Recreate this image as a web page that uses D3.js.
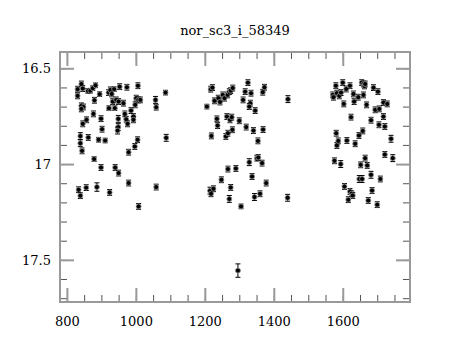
<!DOCTYPE html>
<html><head><meta charset="utf-8">
<script src="https://cdn.jsdelivr.net/npm/d3@7"></script>
<style>body{margin:0;background:#fff}svg{display:block}</style>
</head><body>
<script>
const title = "nor_sc3_i_58349";
const times = [
 831,831,842,846,861,868,875,883,880,895,842,848,842,877,857,846,899,902,839,862,892,911,839,844,879,899,
 921,926,930,937,933,943,953,974,950,964,922,939,968,972,976,986,993,993,998,1001,1007,1013,1006,949,949,947,
 1005,997,979,940,950,1057,1059,1086,1088,834,839,856,887,924,979,1008,1059,
 1217,1222,1206,1228,1239,1244,1252,1257,1266,1271,1275,1281,1325,1317,1334,1311,1332,1329,1346,1368,1373,1441,
 1235,1237,1264,1273,1278,1300,1320,1341,1354,1369,1219,1261,1267,1280,1329,1351,1355,1366,1267,1290,1337,1248,
 1378,1215,1218,1225,1275,1271,1344,1360,1305,1440,1296,
 1580,1571,1573,1583,1590,1595,1600,1603,1610,1621,1631,1633,1645,1655,1660,1663,1665,1660,1669,1689,1702,1694,
 1706,1718,1729,1718,1705,1722,1682,1624,1740,1581,1583,1587,1612,1636,1647,1658,1722,1745,1576,1594,1652,1665,
 1671,1682,1648,1656,1709,1685,1605,1621,1626,1629,1616,1674,1700
];
const mags = [
 16.609,16.644,16.582,16.606,16.618,16.617,16.604,16.589,16.667,16.635,16.696,16.702,16.712,16.738,16.769,16.790,
 16.763,16.818,16.854,16.861,16.873,16.877,16.891,16.931,16.974,17.018,
 16.627,16.613,16.634,16.609,16.674,16.665,16.596,16.599,16.674,16.682,16.708,16.708,16.738,16.766,16.790,16.721,
 16.752,16.769,16.691,16.656,16.665,16.665,16.591,16.764,16.807,16.825,16.873,16.908,16.938,17.018,17.047,
 16.665,16.703,16.627,16.863,17.134,17.165,17.123,17.120,17.148,17.099,17.221,17.120,
 16.609,16.601,16.700,16.670,16.656,16.676,16.639,16.656,16.639,16.622,16.617,16.603,16.575,16.622,16.630,16.665,
 16.682,16.700,16.721,16.625,16.599,16.661,16.764,16.799,16.752,16.769,16.755,16.774,16.807,16.825,16.879,16.820,
 16.853,16.856,16.839,16.821,16.990,16.969,16.966,16.995,17.026,17.023,17.065,17.082,17.099,17.139,17.155,17.129,
 17.122,17.182,17.172,17.155,17.221,17.176,17.556,
 16.591,16.639,16.651,16.630,16.644,16.627,16.575,16.686,16.608,16.591,16.634,16.674,16.651,16.575,16.582,16.592,
 16.582,16.639,16.691,16.601,16.622,16.717,16.712,16.679,16.686,16.752,16.795,16.804,16.771,16.755,16.868,16.839,
 16.903,16.879,16.877,16.894,16.851,16.827,16.950,16.969,16.983,17.000,17.004,16.969,17.007,17.056,17.078,17.078,
 17.078,17.138,17.117,17.143,17.155,17.164,17.186,17.190,17.212
];
const errors = [
 0.015,0.015,0.015,0.015,0.012,0.012,0.012,0.012,0.015,0.012,0.015,0.015,0.015,0.015,0.015,0.015,
 0.015,0.015,0.018,0.015,0.012,0.012,0.018,0.015,0.012,0.015,
 0.015,0.015,0.015,0.012,0.015,0.015,0.015,0.015,0.015,0.015,0.012,0.012,0.015,0.015,0.015,0.015,
 0.015,0.015,0.015,0.015,0.015,0.015,0.015,0.018,0.018,0.018,0.015,0.015,0.015,0.015,0.015,
 0.018,0.015,0.012,0.018,0.015,0.015,0.015,0.022,0.015,0.015,0.015,0.015,
 0.015,0.015,0.012,0.015,0.015,0.015,0.015,0.015,0.015,0.015,0.015,0.015,0.015,0.015,0.015,0.015,
 0.015,0.015,0.015,0.015,0.015,0.018,0.015,0.015,0.015,0.015,0.015,0.015,0.015,0.015,0.015,0.015,
 0.015,0.015,0.015,0.015,0.018,0.015,0.015,0.015,0.015,0.015,0.015,0.015,0.015,0.018,0.015,0.015,
 0.015,0.018,0.018,0.015,0.012,0.018,0.035,
 0.015,0.015,0.015,0.015,0.015,0.015,0.015,0.015,0.015,0.015,0.015,0.015,0.015,0.015,0.015,0.015,
 0.015,0.015,0.015,0.015,0.015,0.015,0.015,0.015,0.015,0.015,0.015,0.015,0.015,0.015,0.018,0.015,
 0.015,0.015,0.015,0.015,0.015,0.015,0.015,0.018,0.015,0.018,0.015,0.015,0.015,0.018,0.018,0.018,
 0.015,0.015,0.015,0.015,0.015,0.015,0.015,0.015,0.015
];
const xMajorTicks = [800, 1000, 1200, 1400, 1600];
const xMinorTicks = [800,850,900,950,1000,1050,1100,1150,1200,1250,1300,1350,1400,1450,1500,1550,1600,1650,1700,1750];
const yMajorTicks = [16.5, 17, 17.5];
const yMinorTicks = [16.5,16.6,16.7,16.8,16.9,17,17.1,17.2,17.3,17.4,17.5,17.6,17.7];

const W = 460, H = 340;
const L = 60, R = 410, T = 52, B = 302;
const svg = d3.select("body").append("svg").attr("width", W).attr("height", H);
const x = d3.scaleLinear().domain([780, 1795]).range([L, R]);
const y = d3.scaleLinear().domain([16.415, 17.72]).range([T, B]);
const font = "'DejaVu Serif', serif";

svg.append("text").attr("x", 235).attr("y", 35).attr("text-anchor", "middle")
  .attr("font-family", font).attr("font-size", 13).text(title);

function styleAxis(g, w, col) {
  g.select(".domain").remove();
  g.selectAll(".tick line").attr("stroke", col).attr("stroke-width", w);
}
const minorLen = 7, majorLen = 14;
svg.append("g").attr("transform", `translate(0,${B})`)
  .call(d3.axisTop(x).tickValues(xMinorTicks).tickSize(minorLen).tickFormat(""))
  .call(g => styleAxis(g, 1, "#555"));
svg.append("g").attr("transform", `translate(0,${T})`)
  .call(d3.axisBottom(x).tickValues(xMinorTicks).tickSize(minorLen).tickFormat(""))
  .call(g => styleAxis(g, 1, "#555"));
svg.append("g").attr("transform", `translate(${L},0)`)
  .call(d3.axisRight(y).tickValues(yMinorTicks).tickSize(minorLen).tickFormat(""))
  .call(g => styleAxis(g, 1, "#555"));
svg.append("g").attr("transform", `translate(${R},0)`)
  .call(d3.axisLeft(y).tickValues(yMinorTicks).tickSize(minorLen).tickFormat(""))
  .call(g => styleAxis(g, 1, "#555"));
svg.append("g").attr("transform", `translate(0,${B})`)
  .call(d3.axisTop(x).tickValues(xMajorTicks).tickSize(majorLen).tickFormat(""))
  .call(g => styleAxis(g, 2, "#999"));
svg.append("g").attr("transform", `translate(0,${T})`)
  .call(d3.axisBottom(x).tickValues(xMajorTicks).tickSize(majorLen).tickFormat(""))
  .call(g => styleAxis(g, 2, "#999"));
svg.append("g").attr("transform", `translate(${L},0)`)
  .call(d3.axisRight(y).tickValues(yMajorTicks).tickSize(majorLen).tickFormat(""))
  .call(g => styleAxis(g, 2, "#999"));
svg.append("g").attr("transform", `translate(${R},0)`)
  .call(d3.axisLeft(y).tickValues(yMajorTicks).tickSize(majorLen).tickFormat(""))
  .call(g => styleAxis(g, 2, "#999"));
const xl = svg.append("g").attr("transform", `translate(0,${B})`)
  .call(d3.axisBottom(x).tickValues(xMajorTicks).tickSize(0).tickPadding(15).tickFormat(d3.format("d")));
xl.select(".domain").remove();
xl.selectAll("text").attr("font-family", font).attr("font-size", 13).attr("fill", "#000");
const yl = svg.append("g").attr("transform", `translate(${L},0)`)
  .call(d3.axisLeft(y).tickValues(yMajorTicks).tickSize(0).tickPadding(9).tickFormat(d => String(d)));
yl.select(".domain").remove();
yl.selectAll("text").attr("font-family", font).attr("font-size", 13).attr("fill", "#000");

svg.append("rect").attr("x", L).attr("y", T).attr("width", R - L).attr("height", B - T)
  .attr("fill", "none").attr("stroke", "#999").attr("stroke-width", 2);

const data = times.map((t, i) => ({t, m: mags[i], e: errors[i]}));
const pts = svg.append("g");
const eg = pts.selectAll("g.pt").data(data).join("g").attr("class", "pt");
eg.append("line").attr("x1", d => x(d.t)).attr("x2", d => x(d.t))
  .attr("y1", d => y(d.m - d.e)).attr("y2", d => y(d.m + d.e)).attr("stroke", "#000").attr("stroke-width", 1);
eg.append("line").attr("x1", d => x(d.t) - 2.5).attr("x2", d => x(d.t) + 2.5)
  .attr("y1", d => y(d.m - d.e)).attr("y2", d => y(d.m - d.e)).attr("stroke", "#000").attr("stroke-width", 1);
eg.append("line").attr("x1", d => x(d.t) - 2.5).attr("x2", d => x(d.t) + 2.5)
  .attr("y1", d => y(d.m + d.e)).attr("y2", d => y(d.m + d.e)).attr("stroke", "#000").attr("stroke-width", 1);
eg.append("circle").attr("cx", d => x(d.t)).attr("cy", d => y(d.m)).attr("r", 2.5)
  .attr("fill", "#000").attr("stroke", "#999").attr("stroke-width", 0.8);
</script>
</body></html>
